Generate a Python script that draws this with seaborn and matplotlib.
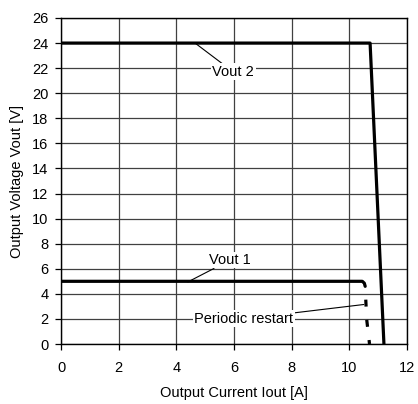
import matplotlib
matplotlib.use("Agg")
import matplotlib.pyplot as plt
import seaborn as sns
import numpy as np

sns.set_theme(style="white")
plt.rcParams['font.family'] = ['Liberation Sans', 'DejaVu Sans']
plt.rcParams['lines.scale_dashes'] = False
plt.rcParams['text.color'] = 'black'
plt.rcParams['axes.labelcolor'] = 'black'
plt.rcParams['xtick.color'] = 'black'
plt.rcParams['ytick.color'] = 'black'

# Data
vout2_x = [0, 10.72, 11.2]
vout2_y = [24, 24, 0]
vout1_x = [0, 10.45, 10.52, 10.55]
vout1_y = [5, 5, 4.85, 4.6]
restart_x = [10.55, 10.6, 10.7]
restart_y = [4.6, 2.0, 0]
x_ticks = list(range(0, 13, 2))
y_ticks = list(range(0, 27, 2))

fs = 10.5
fig = plt.figure(figsize=(4.18, 4.04), dpi=100)
ax = fig.add_axes([61/418, 1-344/404, (407-61)/418, (344-18)/404])

grid_c = "#404040"
for yv in y_ticks:
    ax.axhline(yv, color=grid_c, lw=0.9, zorder=1)
for xv in x_ticks:
    ax.axvline(xv, color=grid_c, lw=0.9, zorder=1)

sns.lineplot(x=vout2_x, y=vout2_y, sort=False, color="black", lw=2.3, ax=ax, zorder=4)
sns.lineplot(x=vout1_x, y=vout1_y, sort=False, color="black", lw=2.3, ax=ax, zorder=4)
sns.lineplot(x=restart_x, y=restart_y, sort=False, color="black", lw=2.3, ax=ax, zorder=4,
             dashes=False)
ax.lines[-1].set_linestyle((5.0, (5.0, 9.6)))
ax.lines[-1].set_dash_capstyle('butt')

ax.set_xlim(0, 12)
ax.set_ylim(0, 26)
ax.set_xticks(x_ticks)
ax.set_yticks(y_ticks)
ax.tick_params(axis='both', direction='out', length=4, width=0.9, color='black',
               labelcolor='black', labelsize=fs, bottom=True, left=True)
ax.tick_params(axis='x', pad=8)
ax.tick_params(axis='y', pad=5)
for s in ax.spines.values():
    s.set_color('black')
    s.set_linewidth(1.0)

ax.set_xlabel("Output Current Iout [A]", fontsize=fs, labelpad=8, color='black')
ax.set_ylabel("Output Voltage Vout [V]", fontsize=fs, labelpad=6, color='black')

bbox = dict(boxstyle="square,pad=0.1", fc="white", ec="none")
ax.annotate("Vout 2", xy=(4.65, 24), xytext=(5.25, 21.7), fontsize=fs,
            ha="left", va="center", bbox=bbox, zorder=3, color='black',
            arrowprops=dict(arrowstyle="-", color="black", lw=0.8, shrinkA=0, shrinkB=0))
ax.annotate("Vout 1", xy=(4.4, 4.95), xytext=(5.15, 6.7), fontsize=fs,
            ha="left", va="center", bbox=bbox, zorder=3, color='black',
            arrowprops=dict(arrowstyle="-", color="black", lw=0.8, shrinkA=0, shrinkB=0))
ax.annotate("Periodic restart", xy=(10.5, 3.15), xytext=(4.62, 2.0), fontsize=fs,
            ha="left", va="center", bbox=bbox, zorder=3, color='black',
            arrowprops=dict(arrowstyle="-", color="black", lw=0.8, shrinkA=0, shrinkB=0))

fig.savefig("out.png", dpi=100)
